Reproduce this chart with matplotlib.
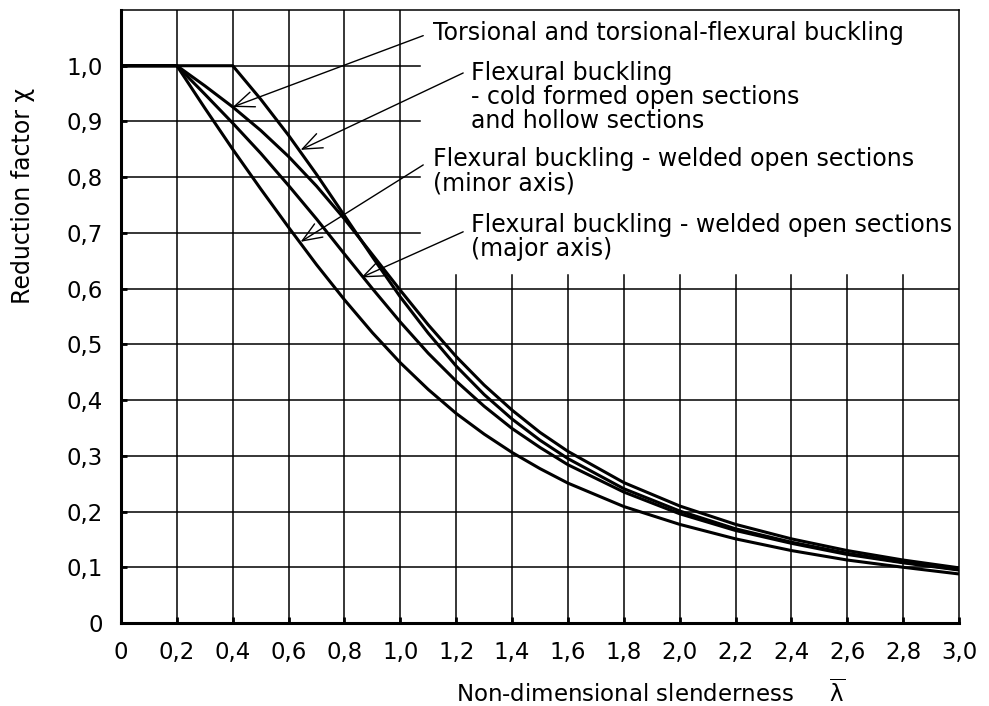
import matplotlib.pyplot as plt

lam = [0.0, 0.2, 0.3, 0.4, 0.5, 0.6, 0.7, 0.8, 0.9, 1.0, 1.1, 1.2, 1.3, 1.4, 1.5, 1.6,
       1.8, 2.0, 2.2, 2.4, 2.6, 2.8, 3.0]
chi_torsional = [1.0, 1.0, 0.964, 0.926, 0.884, 0.837, 0.784, 0.725, 0.661, 0.597, 0.535, 0.478,
                 0.427, 0.382, 0.342, 0.308, 0.252, 0.210, 0.177, 0.151, 0.130, 0.113, 0.099]
chi_major = [1.0, 1.0, 0.949, 0.897, 0.843, 0.785, 0.725, 0.662, 0.600, 0.540, 0.484, 0.434,
             0.389, 0.349, 0.315, 0.284, 0.235, 0.196, 0.166, 0.143, 0.123, 0.108, 0.095]
chi_minor = [1.0, 1.0, 0.924, 0.850, 0.779, 0.710, 0.643, 0.580, 0.521, 0.467, 0.419, 0.376,
             0.339, 0.306, 0.277, 0.251, 0.209, 0.177, 0.151, 0.130, 0.113, 0.100, 0.088]

lam_cold = [0.0, 0.4, 0.5, 0.6, 0.7, 0.8, 0.9, 1.0, 1.1, 1.2, 1.3, 1.4, 1.5, 1.6,
            1.8, 2.0, 2.2, 2.4, 2.6, 2.8, 3.0]
chi_cold = [1.0, 1.0, 0.940, 0.875, 0.805, 0.731, 0.657, 0.585, 0.520, 0.461, 0.410, 0.366,
            0.328, 0.295, 0.241, 0.201, 0.169, 0.145, 0.125, 0.109, 0.096]

x_ticks = [0.0, 0.2, 0.4, 0.6, 0.8, 1.0, 1.2, 1.4, 1.6, 1.8, 2.0, 2.2, 2.4, 2.6, 2.8, 3.0]
x_tick_labels = ["0", "0,2", "0,4", "0,6", "0,8", "1,0", "1,2", "1,4", "1,6", "1,8",
                 "2,0", "2,2", "2,4", "2,6", "2,8", "3,0"]
y_ticks = [0.0, 0.1, 0.2, 0.3, 0.4, 0.5, 0.6, 0.7, 0.8, 0.9, 1.0]
y_tick_labels = ["0", "0,1", "0,2", "0,3", "0,4", "0,5", "0,6", "0,7", "0,8", "0,9", "1,0"]

# labels: text, text anchor, arrow tail, arrow head
labels = [
    ("Torsional and torsional-flexural buckling", (1.118, 1.059), (1.082, 1.054), (0.400, 0.926)),
    ("Flexural buckling\n- cold formed open sections\nand hollow sections",
     (1.254, 0.944), (1.225, 0.987), (0.643, 0.849)),
    ("Flexural buckling - welded open sections\n(minor axis)",
     (1.118, 0.811), (1.082, 0.822), (0.643, 0.684)),
    ("Flexural buckling - welded open sections\n(major axis)",
     (1.254, 0.692), (1.225, 0.702), (0.860, 0.620)),
]

FS = 16.5
plt.rcParams['font.family'] = ['DejaVu Sans']

fig = plt.figure(figsize=(9.89, 7.06), dpi=100)
ax = fig.add_axes([121 / 989, 83 / 706, 838 / 989, 613 / 706])
ax.set_xlim(0, 3.0)
ax.set_ylim(0, 1.1)

# partial grid as in the original figure
for x in x_ticks[1:6]:
    ax.plot([x, x], [0, 1.1], color="black", lw=1.1, zorder=1)
for x in x_ticks[6:-1]:
    ax.plot([x, x], [0, 0.625], color="black", lw=1.1, zorder=1)
for y in y_ticks[1:7]:
    ax.plot([0, 3.0], [y, y], color="black", lw=1.1, zorder=1)
for y in y_ticks[7:]:
    ax.plot([0, 1.07], [y, y], color="black", lw=1.1, zorder=1)

for xs, ys in [(lam, chi_torsional), (lam, chi_major), (lam, chi_minor), (lam_cold, chi_cold)]:
    ax.plot(xs, ys, color="black", lw=2.2, solid_joinstyle="round", zorder=3)

for text, pos, tail, head in labels:
    ax.annotate("", xy=head, xytext=tail,
                arrowprops=dict(arrowstyle="->,head_length=0.7,head_width=0.28",
                                color="black", lw=1.0, mutation_scale=20,
                                shrinkA=0, shrinkB=0))
    ax.text(pos[0], pos[1], text, fontsize=17, ha="left", va="center",
            linespacing=1.0, zorder=4)

ax.set_xticks(x_ticks)
ax.set_xticklabels(x_tick_labels, fontsize=FS)
ax.set_yticks(y_ticks)
ax.set_yticklabels(y_tick_labels, fontsize=FS)
ax.tick_params(direction="in", length=4, width=2, pad=13)

ax.spines["left"].set_linewidth(2.2)
ax.spines["bottom"].set_linewidth(2.2)
ax.spines["top"].set_linewidth(1.1)
ax.spines["right"].set_linewidth(1.1)

ax.set_ylabel("Reduction factor χ", fontsize=17)
ax.yaxis.set_label_coords(-0.117, 0.697)
ax.yaxis.label.set_verticalalignment("center")
ax.set_xlabel(r"Non-dimensional slenderness     $\overline{\mathregular{\lambda}}$", fontsize=FS)
ax.xaxis.set_label_coords(0.632, -0.114)
ax.xaxis.label.set_verticalalignment("center")

fig.savefig("out.png", dpi=100)
